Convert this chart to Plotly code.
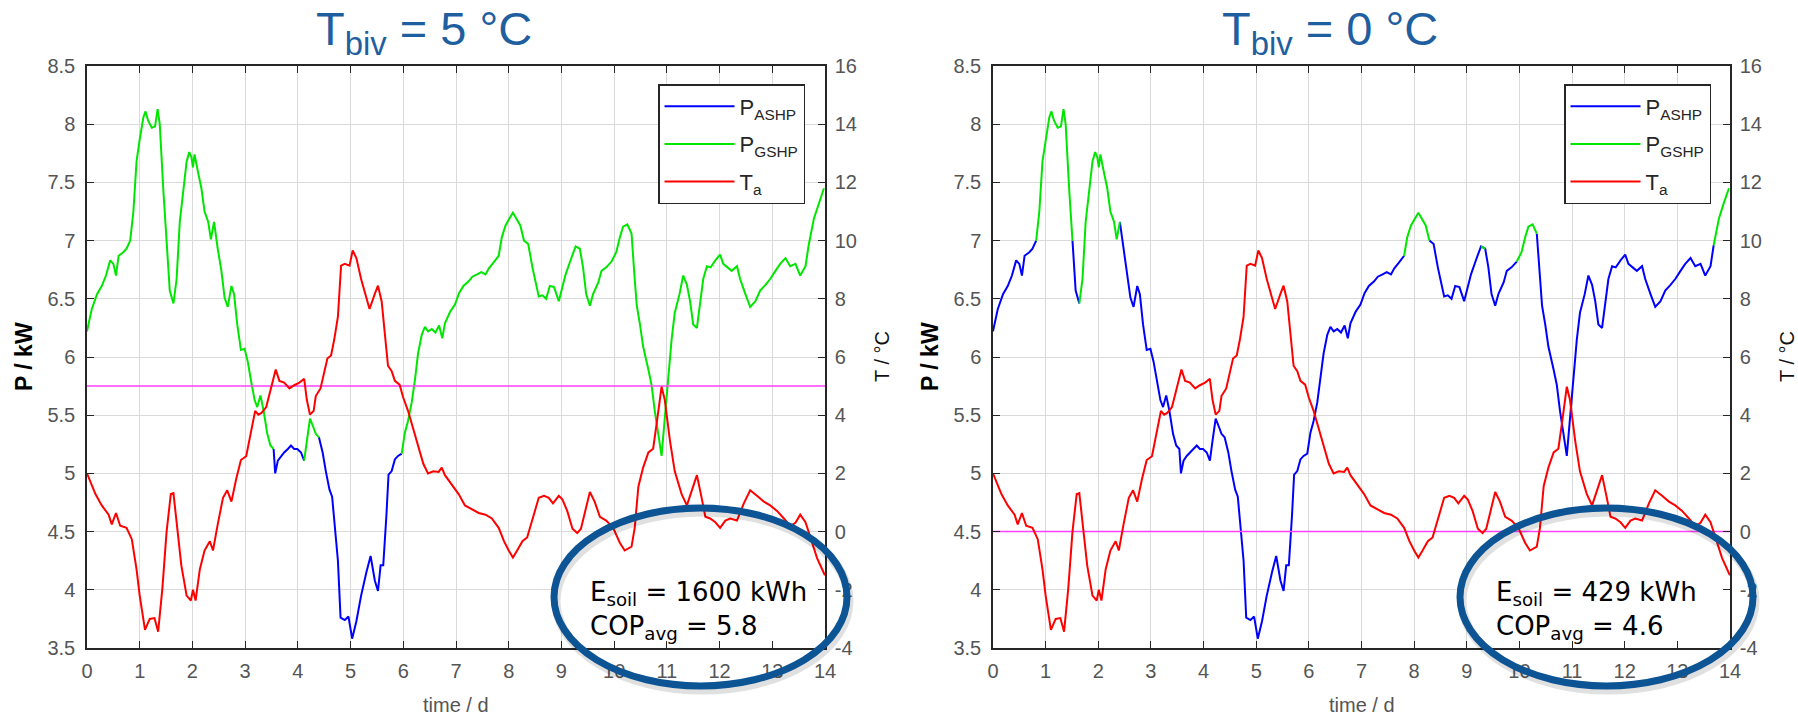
import plotly.graph_objects as go

# ---------------- data ----------------
t_T = [0.0, 0.16, 0.28, 0.41, 0.47, 0.55, 0.63, 0.75, 0.85, 0.94, 1.0, 1.1, 1.19, 1.28, 1.35,
       1.43, 1.51, 1.59, 1.64, 1.7, 1.79, 1.89, 1.97, 2.01, 2.06, 2.14, 2.23, 2.33, 2.39, 2.48,
       2.58, 2.66, 2.74, 2.83, 2.92, 3.02, 3.11, 3.19, 3.25, 3.31, 3.4, 3.49, 3.58, 3.65, 3.74,
       3.84, 3.93, 4.03, 4.12, 4.17, 4.23, 4.3, 4.34, 4.43, 4.56, 4.63, 4.69, 4.76, 4.82, 4.89,
       4.98, 5.04, 5.11, 5.2, 5.3, 5.36, 5.46, 5.52, 5.59, 5.65, 5.71, 5.78, 5.84, 5.93, 6.0,
       6.09, 6.19, 6.28, 6.38, 6.47, 6.57, 6.67, 6.73, 6.79, 6.92, 7.05, 7.17, 7.3, 7.43, 7.56,
       7.68, 7.81, 7.91, 8.0, 8.08, 8.16, 8.26, 8.35, 8.45, 8.57, 8.67, 8.76, 8.84, 8.95, 9.02,
       9.11, 9.21, 9.3, 9.37, 9.47, 9.54, 9.63, 9.73, 9.85, 9.98, 10.11, 10.2, 10.33, 10.39, 10.46,
       10.55, 10.65, 10.74, 10.82, 10.9, 10.96, 11.06, 11.15, 11.28, 11.38, 11.47, 11.57, 11.66,
       11.73, 11.82, 11.92, 12.01, 12.11, 12.2, 12.33, 12.46, 12.58, 12.71, 12.84, 12.96, 13.09,
       13.22, 13.34, 13.44, 13.53, 13.63, 13.72, 13.85, 13.98, 14.0]
T_a = [2.0, 1.29, 0.9, 0.58, 0.25, 0.64, 0.2, 0.13, -0.26, -1.3, -2.2, -3.38, -3.0, -2.97, -3.44,
       -1.95, 0.0, 1.29, 1.32, 0.25, -1.17, -2.2, -2.37, -2.0, -2.37, -1.3, -0.65, -0.33, -0.65, 0.25,
       1.16, 1.42, 1.03, 1.81, 2.46, 2.59, 3.37, 4.15, 4.02, 4.08, 4.28, 4.92, 5.57, 5.18, 5.12,
       4.92, 5.03, 5.12, 5.25, 4.53, 4.02, 4.15, 4.66, 4.92, 5.95, 6.05, 6.6, 7.39, 9.14, 9.2,
       9.14, 9.66, 9.4, 8.68, 8.04, 7.65, 8.17, 8.45, 7.91, 6.87, 5.7, 5.51, 5.18, 5.05, 4.6,
       4.15, 3.5, 2.98, 2.33, 2.0, 2.07, 2.05, 2.2, 1.94, 1.62, 1.29, 0.9, 0.77, 0.64, 0.58,
       0.45, 0.13, -0.33, -0.65, -0.89, -0.65, -0.33, -0.2, 0.38, 1.16, 1.23, 1.16, 0.97, 1.23, 1.1,
       0.71, 0.1, -0.05, 0.1, 0.9, 1.36, 1.03, 0.51, 0.38, 0.13, -0.39, -0.65, -0.52, 0.13, 1.55,
       2.2, 2.72, 2.85, 3.89, 4.98, 4.53, 3.11, 2.07, 1.29, 0.9, 1.42, 1.94, 1.16,
       0.51, 0.45, 0.32, 0.13, 0.38, 0.45, 0.38, 0.97, 1.42, 1.23, 1.03, 0.9, 0.71,
       0.45, 0.19, 0.3, 0.58, 0.32, -0.2, -0.91, -1.43, -1.5]

t_P = [0.0, 0.09, 0.19, 0.28, 0.36, 0.44, 0.5, 0.55, 0.6, 0.69, 0.75, 0.82, 0.88, 0.94, 1.0,
       1.07, 1.11, 1.16, 1.23, 1.29, 1.34, 1.38, 1.45, 1.51, 1.57, 1.64, 1.7, 1.76, 1.82, 1.89,
       1.94, 1.98, 2.01, 2.04, 2.11, 2.17, 2.23, 2.3, 2.35, 2.41, 2.48, 2.55, 2.61, 2.67, 2.74,
       2.79, 2.85, 2.92, 2.99, 3.05, 3.11, 3.18, 3.23, 3.29, 3.35, 3.42, 3.48, 3.54, 3.57, 3.62,
       3.68, 3.74, 3.81, 3.87, 3.93, 3.99, 4.06, 4.12, 4.17, 4.23, 4.3, 4.34, 4.4, 4.47, 4.53,
       4.6, 4.65, 4.69, 4.76, 4.81, 4.89, 4.96, 5.03, 5.11, 5.2, 5.3, 5.38, 5.46, 5.52, 5.57,
       5.62, 5.68, 5.72, 5.78, 5.84, 5.9, 5.97, 6.03, 6.09, 6.16, 6.22, 6.28, 6.35, 6.41, 6.47,
       6.54, 6.61, 6.68, 6.74, 6.79, 6.89, 6.98, 7.06, 7.14, 7.24, 7.31, 7.4, 7.48, 7.56, 7.62,
       7.71, 7.81, 7.87, 7.94, 8.0, 8.08, 8.13, 8.22, 8.29, 8.37, 8.45, 8.51, 8.57, 8.64, 8.71,
       8.78, 8.86, 8.95, 9.02, 9.08, 9.18, 9.27, 9.35, 9.41, 9.47, 9.54, 9.6, 9.7, 9.76, 9.85,
       9.95, 10.04, 10.11, 10.17, 10.25, 10.33, 10.39, 10.43, 10.49, 10.55, 10.65, 10.71, 10.77,
       10.84, 10.9, 10.96, 11.03, 11.09, 11.15, 11.24, 11.31, 11.38, 11.44, 11.5, 11.57, 11.62,
       11.69, 11.76, 11.83, 11.92, 12.01, 12.07, 12.14, 12.23, 12.33, 12.39, 12.49, 12.58, 12.68,
       12.77, 12.87, 12.96, 13.06, 13.15, 13.25, 13.34, 13.44, 13.53, 13.63, 13.69, 13.79, 13.88,
       13.98]
P_kW = [6.22, 6.41, 6.54, 6.61, 6.70, 6.83, 6.80, 6.70, 6.87, 6.9, 6.93, 7.0, 7.25, 7.68, 7.87,
        8.06, 8.11, 8.03, 7.97, 7.98, 8.13, 8.0, 7.42, 7.0, 6.57, 6.46, 6.67, 7.16, 7.42, 7.68,
        7.76, 7.72, 7.63, 7.74, 7.58, 7.45, 7.25, 7.16, 7.01, 7.16, 6.93, 6.74, 6.51, 6.43, 6.61,
        6.54, 6.28, 6.06, 6.07, 5.96, 5.8, 5.63, 5.57, 5.67, 5.54, 5.34, 5.24, 5.21, 5.0, 5.11,
        5.15, 5.18, 5.21, 5.24, 5.21, 5.21, 5.18, 5.11, 5.28, 5.47, 5.39, 5.34, 5.31, 5.18, 5.02,
        4.86, 4.8, 4.6, 4.25, 3.76, 3.74, 3.77, 3.58, 3.73, 3.95, 4.15, 4.29, 4.08, 3.99, 4.21,
        4.21, 4.64, 4.99, 5.02, 5.12, 5.15, 5.17, 5.35, 5.45, 5.61, 5.8, 6.03, 6.19, 6.26, 6.22,
        6.24, 6.21, 6.27, 6.16, 6.29, 6.39, 6.45, 6.55, 6.61, 6.65, 6.69, 6.71, 6.73, 6.71, 6.76,
        6.81, 6.87, 7.03, 7.13, 7.18, 7.24, 7.2, 7.13, 7.0, 6.97, 6.77, 6.65, 6.52, 6.53, 6.5,
        6.61, 6.6, 6.48, 6.61, 6.71, 6.84, 6.95, 6.93, 6.77, 6.54, 6.44, 6.54, 6.64, 6.74, 6.77,
        6.82, 6.9, 7.03, 7.12, 7.14, 7.06, 6.67, 6.44, 6.28, 6.09, 5.89, 5.76, 5.54,
        5.34, 5.15, 5.47, 5.83, 6.15, 6.38, 6.54, 6.7, 6.62, 6.48, 6.28, 6.25, 6.41,
        6.67, 6.78, 6.77, 6.83, 6.88, 6.8, 6.77, 6.74, 6.78, 6.67, 6.54, 6.43, 6.48,
        6.57, 6.62, 6.67, 6.74, 6.8, 6.85, 6.78, 6.8, 6.7, 6.78, 6.96, 7.19, 7.32,
        7.45]

gshp_periods_5C = [(0.0, 3.54), (4.12, 4.40), (5.97, 14.0)]
gshp_periods_0C = [(0.82, 1.51), (1.64, 2.41), (7.81, 8.29), (9.27, 9.35), (9.95, 10.33),
                   (13.69, 14.0)]

T_biv = [5, 0]
E_soil = [1600, 429]
COP_avg = [5.8, 4.6]

day_ticks = list(range(0, 15))
P_ticks = [3.5, 4, 4.5, 5, 5.5, 6, 6.5, 7, 7.5, 8, 8.5]
P_labels = ["3.5", "4", "4.5", "5", "5.5", "6", "6.5", "7", "7.5", "8", "8.5"]
T_ticks = [-4, -2, 0, 2, 4, 6, 8, 10, 12, 14, 16]
T_labels = ["-4", "-2", "0", "2", "4", "6", "8", "10", "12", "14", "16"]

# ---------------- style ----------------
W, H = 1798, 717
FONT = "Liberation Sans, Arial, sans-serif"
AX = "#262626"
TICK = "#555555"
GRID = "#dadada"
BLUE_T = "#1f5f9f"
ELL = "#0d5494"
C_ASHP, C_GSHP, C_TA, C_BIV = "#0000ff", "#00e600", "#ff0000", "#ff40ff"
LW = 2.0

panels = [
    dict(x=("x", "y", "y2"), xdom=(87, 825), legend="legend", gshp=gshp_periods_5C),
    dict(x=("x2", "y3", "y4"), xdom=(993, 1730), legend="legend2", gshp=gshp_periods_0C),
]
ytop, ybot = 66, 648


def px(v):
    return v / W


def py(v):
    return 1 - v / H


def split(periods):
    n = len(t_P)
    gs = [any(a <= t <= b for a, b in periods) for t in t_P]
    ashp, gshp = [], []
    for i in range(n):
        near_air = (not gs[i]) or (i > 0 and not gs[i - 1]) or (i < n - 1 and not gs[i + 1])
        ashp.append(P_kW[i] if near_air else None)
        gshp.append(P_kW[i] if gs[i] else None)
    return ashp, gshp


fig = go.Figure()
layout = dict(width=W, height=H,
              margin=dict(l=0, r=0, t=0, b=0, pad=0, autoexpand=False),
              paper_bgcolor="white", plot_bgcolor="white", showlegend=True)
shapes, annotations = [], []

axis_common = dict(showline=True, linecolor=AX, linewidth=1.5, ticks="inside", ticklen=7,
                   tickwidth=1.2, tickcolor=AX, zeroline=False, automargin=False,
                   tickfont=dict(family=FONT, size=20, color=TICK))

for k, pan in enumerate(panels):
    xa, ya, ya2 = pan["x"]
    tb = T_biv[k]
    ashp, gshp = split(pan["gshp"])
    fig.add_trace(go.Scatter(x=[day_ticks[0], day_ticks[-1]], y=[tb, tb], xaxis=xa, yaxis=ya2,
                             mode="lines", line=dict(color=C_BIV, width=1.5), showlegend=False,
                             hoverinfo="skip"))
    fig.add_trace(go.Scatter(x=t_P, y=ashp, xaxis=xa, yaxis=ya, mode="lines",
                             line=dict(color=C_ASHP, width=LW), name="P<sub>ASHP</sub>",
                             legend=pan["legend"], legendgroup=f"a{k}"))
    fig.add_trace(go.Scatter(x=t_P, y=gshp, xaxis=xa, yaxis=ya, mode="lines",
                             line=dict(color=C_GSHP, width=LW), name="P<sub>GSHP</sub>",
                             legend=pan["legend"], legendgroup=f"g{k}"))
    fig.add_trace(go.Scatter(x=t_T, y=T_a, xaxis=xa, yaxis=ya2, mode="lines",
                             line=dict(color=C_TA, width=LW), name="T<sub>a</sub>",
                             legend=pan["legend"], legendgroup=f"t{k}"))

    x0, x1 = pan["xdom"]
    xkey = "xaxis" if xa == "x" else "xaxis2"
    ykey = "yaxis" if ya == "y" else "yaxis3"
    y2key = "yaxis2" if ya2 == "y2" else "yaxis4"
    layout[xkey] = dict(domain=[px(x0), px(x1)], range=[0, 14], tickvals=day_ticks,
                        showgrid=True, gridcolor=GRID, gridwidth=1, mirror="ticks",
                        anchor=ya, ticklabelstandoff=4, **axis_common)
    layout[ykey] = dict(domain=[py(ybot), py(ytop)], range=[3.5, 8.5], tickvals=P_ticks,
                        ticktext=P_labels, showgrid=True, gridcolor=GRID, gridwidth=1,
                        mirror=True, anchor=xa, ticklabelstandoff=6, **axis_common)
    layout[y2key] = dict(overlaying=ya, side="right", anchor=xa, range=[-4, 16],
                         tickvals=T_ticks, ticktext=T_labels, showgrid=False,
                         ticklabelstandoff=4, **axis_common)

    # legend box
    layout[pan["legend"]] = dict(x=px(x0 + 571), y=py(84), xanchor="left", yanchor="top",
                                 bgcolor="white", bordercolor=AX, borderwidth=1.5,
                                 font=dict(family=FONT, size=22, color=AX),
                                 itemwidth=70, traceorder="grouped", tracegroupgap=6)

    # titles
    cx = (x0 + x1) / 2
    annotations.append(dict(text=f"T<sub>biv</sub> = {tb} °C", x=px(cx - 32), y=py(32),
                            xref="paper", yref="paper", showarrow=False, xanchor="center",
                            yanchor="middle", font=dict(family=FONT, size=47, color=BLUE_T)))
    annotations.append(dict(text="<b>P / kW</b>", x=px(x0 - 63), y=py(357), xref="paper",
                            yref="paper", showarrow=False, textangle=-90, xanchor="center",
                            yanchor="middle", font=dict(family=FONT, size=23, color="black")))
    annotations.append(dict(text="T / °C", x=px(x1 + 57), y=py(357), xref="paper",
                            yref="paper", showarrow=False, textangle=-90, xanchor="center",
                            yanchor="middle", font=dict(family=FONT, size=20, color="#111111")))
    annotations.append(dict(text="time / d", x=px(cx), y=py(705), xref="paper", yref="paper",
                            showarrow=False, xanchor="center", yanchor="middle",
                            font=dict(family=FONT, size=20, color=TICK)))

    # highlight ellipse: white interior between grid and traces, outline on top
    ex0, ex1 = x0 + 467, x0 + 760
    ey0, ey1 = 508, 686
    d_per_px = 14 / (x1 - x0)
    p_per_px = 5 / (ybot - ytop)
    shapes.append(dict(type="circle", xref=xa, yref=ya, layer="between",
                       x0=(ex0 - x0) * d_per_px, x1=(ex1 - x0) * d_per_px,
                       y0=8.5 - (ey1 - ytop) * p_per_px, y1=8.5 - (ey0 - ytop) * p_per_px,
                       fillcolor="white", line=dict(width=0)))
    shapes.append(dict(type="circle", xref="paper", yref="paper", layer="above",
                       x0=px(ex0 + 2), x1=px(ex1 + 2), y0=py(ey1 + 4), y1=py(ey0 + 4),
                       line=dict(color="rgba(0,0,0,0.12)", width=9)))
    shapes.append(dict(type="circle", xref="paper", yref="paper", layer="above",
                       x0=px(ex0), x1=px(ex1), y0=py(ey1), y1=py(ey0),
                       line=dict(color=ELL, width=7)))
    annotations.append(dict(text=f"E<sub>soil</sub> = {E_soil[k]} kWh<br>COP<sub>avg</sub> = {COP_avg[k]}",
                            x=px(ex0 + 34), y=py(610), xref="paper", yref="paper",
                            showarrow=False, xanchor="left", yanchor="middle", align="left",
                            font=dict(family="DejaVu Sans, Verdana, sans-serif", size=26,
                                      color="black")))

layout["shapes"] = shapes
layout["annotations"] = annotations
fig.update_layout(**layout)

fig.write_html("out.html", config={"displayModeBar": False},
               post_script="document.body.style.margin='0';")
